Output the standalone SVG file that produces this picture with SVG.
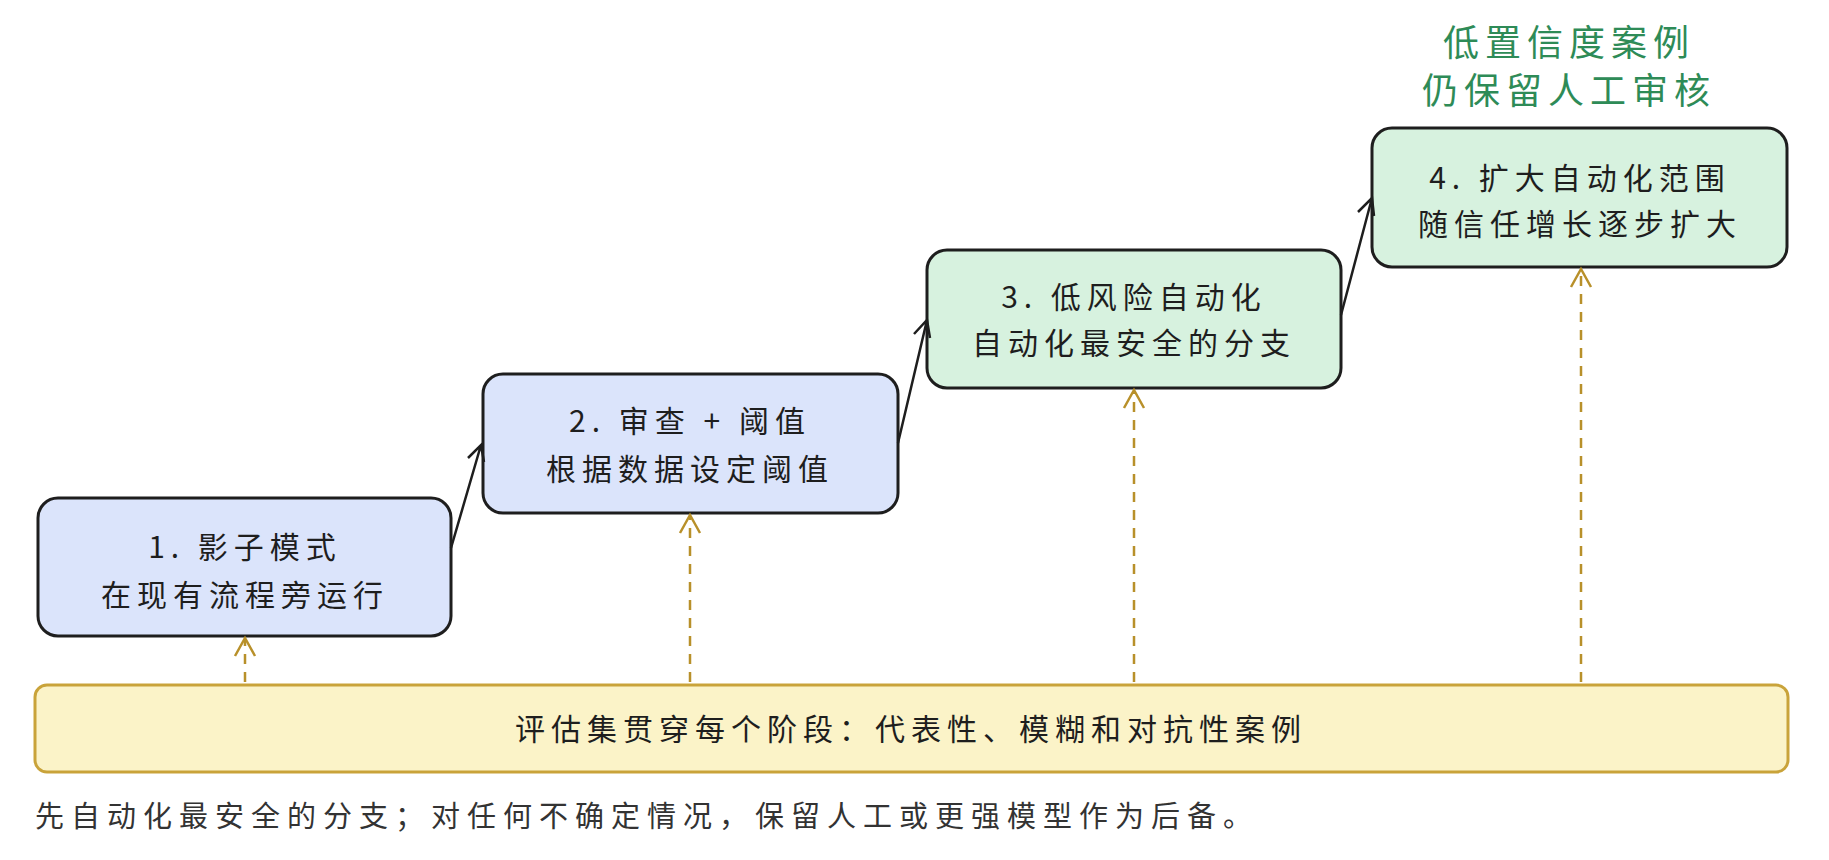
<svg xmlns="http://www.w3.org/2000/svg" width="1829" height="860" viewBox="0 0 1829 860">
<style>
text{font-family:"Noto Sans CJK SC","Noto Sans",sans-serif;fill:#1e1e1e;text-anchor:middle}
.n{stroke:#1e1e1e;stroke-width:3}
.b{fill:#dbe4fb}.g{fill:#d7f2df}
.t{font-size:30px;letter-spacing:6px}
.d{stroke:#b8902a;stroke-width:2.5;stroke-dasharray:10 8;fill:none}
.h{stroke:#b8902a;stroke-width:2.5;fill:none}
.s{stroke:#1e1e1e;stroke-width:2.5;fill:none}
</style>
<rect width="1829" height="860" fill="#fff"/>
<g id="n1"><rect class="n b" x="38" y="498" width="413" height="138" rx="20"/><text class="t" x="245" y="558">1. 影子模式</text><text class="t" x="245" y="606">在现有流程旁运行</text></g>
<g id="n2"><rect class="n b" x="483" y="374" width="415" height="139" rx="20"/><text class="t" x="690" y="432">2. 审查 + 阈值</text><text class="t" x="690" y="480">根据数据设定阈值</text></g>
<g id="n3"><rect class="n g" x="927" y="250" width="414" height="138" rx="20"/><text class="t" x="1134" y="308">3. 低风险自动化</text><text class="t" x="1134" y="354">自动化最安全的分支</text></g>
<g id="n4"><rect class="n g" x="1372" y="128" width="415" height="139" rx="20"/><text class="t" x="1580" y="189">4. 扩大自动化范围</text><text class="t" x="1580" y="235">随信任增长逐步扩大</text></g>
<g id="bar"><rect x="35" y="685" width="1753" height="87" rx="12" fill="#fbf3c8" stroke="#c9a33a" stroke-width="3"/><text class="t" x="911" y="740">评估集贯穿每个阶段：代表性、模糊和对抗性案例</text></g>
<g id="note"><text x="1569" y="56" style="font-size:36px;letter-spacing:6px;fill:#2e8b57">低置信度案例</text><text x="1569" y="104" style="font-size:36px;letter-spacing:6px;fill:#2e8b57">仍保留人工审核</text></g>
<text x="35" y="827" style="font-size:29px;letter-spacing:7px;text-anchor:start;fill:#333">先自动化最安全的分支；对任何不确定情况，保留人工或更强模型作为后备。</text>
<g id="connectors">
<path class="s" d="M451 548 L481 445 M468 458 L481 445 L484 462"/>
<path class="s" d="M898 443 L927 320 M914 334 L927 320 L930 338"/>
<path class="s" d="M1341 315 L1372 198 M1358 212 L1372 198 L1374 216"/>
<path class="d" d="M245 682 V640"/><path class="h" d="M235 656 L245 638 L255 656"/>
<path class="d" d="M690 682 V517"/><path class="h" d="M680 533 L690 515 L700 533"/>
<path class="d" d="M1134 682 V392"/><path class="h" d="M1124 408 L1134 390 L1144 408"/>
<path class="d" d="M1581 682 V271"/><path class="h" d="M1571 287 L1581 269 L1591 287"/>
</g>
</svg>
